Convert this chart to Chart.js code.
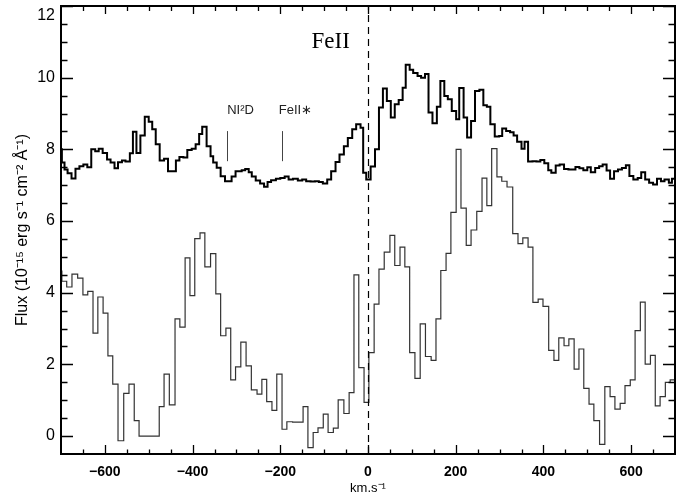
<!DOCTYPE html>
<html>
<head>
<meta charset="utf-8">
<script src="https://cdn.jsdelivr.net/npm/chart.js@4.4.1/dist/chart.umd.min.js"></script>
<style>
html, body { margin: 0; padding: 0; background: #fff; }
</style>
</head>
<body>
<canvas id="c" width="691" height="499"></canvas>
<script>
// axis labels
const xTickLabels = [-600, -400, -200, 0, 200, 400, 600];
const yTickLabels = [0, 2, 4, 6, 8, 10, 12];

// upper spectrum: left edge of each bin (km/s) and flux
const upperVel = [-700,-698,-692,-685,-676,-667,-658,-649,-640,-631,
  -622,-614,-605,-595,-587,-578,-570,-561,-553,-543,
  -536,-528,-519,-509,-500,-492,-484,-475,-465,-456,
  -438,-430,-421,-412,-402,-393,-385,-378,-368,-359,
  -353,-345,-336,-326,-311,-302,-288,-280,-272,-265,
  -256,-246,-237,-229,-221,-210,-200,-190,-181,-171,
  -160,-150,-141,-131,-121,-112,-103,-93,-84,-74,
  -65,-55,-46,-36,-27,-17,-11,-4,6,16,
  25,34,43,52,61,70,79,86,95,103,
  113,121,130,138,147,157,165,174,182,191,
  201,208,218,226,235,244,254,263,271,279,
  289,299,306,315,324,332,340,350,357,365,
  375,384,393,402,411,418,428,437,447,457,
  464,473,482,491,500,508,518,527,535,544,
  552,561,570,579,588,596,605,615,623,632,
  641,650,659,668,676,686,693,700];
const upperFlux = [8.0,7.63,7.44,7.33,7.19,7.46,7.53,7.58,7.50,8.00,
  7.95,8.02,7.90,7.72,7.63,7.47,7.64,7.69,7.66,7.89,
  8.49,7.90,8.39,8.91,8.77,8.56,8.14,7.69,7.74,7.39,
  7.69,7.79,7.77,7.98,8.02,8.14,8.43,8.63,8.09,7.81,
  7.63,7.49,7.25,7.11,7.24,7.39,7.42,7.45,7.36,7.24,
  7.13,7.05,6.96,7.09,7.14,7.18,7.20,7.24,7.16,7.18,
  7.13,7.16,7.11,7.10,7.11,7.09,7.05,7.16,7.39,7.65,
  7.86,8.09,8.32,8.56,8.70,8.60,7.35,7.16,7.52,8.00,
  9.17,9.70,9.35,8.89,9.26,9.38,9.72,10.36,10.22,10.13,
  10.05,10.00,10.10,9.03,8.73,9.19,9.91,9.49,9.40,9.07,
  8.84,9.71,8.89,8.33,8.79,9.63,9.66,9.23,9.19,8.70,
  8.36,8.37,8.58,8.51,8.48,8.39,8.21,8.02,8.21,7.66,
  7.67,7.66,7.70,7.61,7.42,7.35,7.55,7.58,7.45,7.44,
  7.44,7.51,7.47,7.42,7.50,7.36,7.48,7.53,7.58,7.41,
  7.18,7.39,7.44,7.48,7.56,7.26,7.16,7.20,7.36,7.16,
  7.07,7.02,7.18,7.11,7.16,7.07,7.18,7.18];

// lower spectrum
const lowerVel = [-700,-698,-687,-675,-662,-650,-639,-627,-616,-604,
  -593,-582,-570,-557,-545,-533,-522,-476,-465,-453,
  -440,-429,-417,-406,-395,-383,-372,-359,-347,-336,
  -324,-313,-302,-290,-278,-266,-253,-242,-231,-219,
  -208,-196,-185,-172,-148,-137,-125,-114,-102,-91,
  -79,-68,-55,-43,-32,-21,-9,2,14,25,
  37,50,61,73,84,95,107,119,131,144,
  155,166,178,189,201,212,224,235,248,260,
  271,282,294,305,317,330,342,353,365,376,
  388,399,412,424,435,447,458,470,481,492,
  504,515,528,540,552,563,575,586,598,609,
  621,632,644,655,666,678,689,700];
const lowerFlux = [4.60,4.32,4.16,4.52,4.41,3.94,4.04,2.87,3.88,3.43,
  2.24,1.45,-0.13,1.19,1.45,0.43,0.00,0.82,1.73,0.87,
  3.27,3.04,4.97,3.92,5.51,5.67,4.72,5.09,3.97,2.80,
  3.01,1.57,1.93,2.62,1.96,1.29,1.17,1.58,0.96,0.72,
  1.73,0.19,0.40,0.39,0.82,-0.32,0.10,0.23,0.61,0.10,
  0.22,1.01,0.63,1.21,4.50,1.91,0.94,2.33,3.68,4.66,
  5.13,5.60,4.76,5.27,4.72,2.33,1.61,3.13,2.22,2.11,
  3.27,4.62,5.10,6.24,8.00,6.36,5.32,5.75,6.27,7.20,
  6.43,8.02,7.23,7.11,6.95,5.65,5.37,5.53,5.27,3.73,
  3.82,3.62,2.39,2.11,2.74,2.52,2.71,1.87,2.43,1.33,
  0.89,0.43,-0.23,1.38,1.10,0.75,0.91,1.41,1.57,2.94,
  3.74,2.01,2.25,0.84,1.10,1.50,1.57,1.57];

// line markers (velocity, label)
const markerVel = [-322, -196];
const markerText = ['NI²D', 'FeII∗'];
const markerRange = [7.67, 8.51];   // flux span of the small marker bars
const markerLabelY = 9.1;
const titleText = 'FeII';
const titlePos = [-85, 11.0];

const toPoints = (xs, ys) => xs.map((v, i) => ({ x: v, y: ys[i] }));

// inward ticks on all four sides, dashed zero line, markers
const framePlugin = {
    id: 'frame',
    afterDatasetsDraw(chart) {
        const { ctx, chartArea: a, scales: { x, y } } = chart;
        ctx.save();
        ctx.strokeStyle = '#000';
        ctx.lineWidth = 2;
        ctx.strokeRect(a.left, a.top, a.right - a.left, a.bottom - a.top);

        ctx.lineWidth = 1.3;
        ctx.beginPath();
        for (let v = -650; v <= 650; v += 50) {
            const px = Math.round(x.getPixelForValue(v)) + 0.5;
            const major = v % 200 === 0;
            ctx.moveTo(px, a.bottom); ctx.lineTo(px, a.bottom - (major ? 9 : 4.5));
            ctx.moveTo(px, a.top); ctx.lineTo(px, a.top + (major ? 8 : 5));
        }
        for (let v = 0; v <= 12; v += 0.5) {
            const py = Math.round(y.getPixelForValue(v)) + 0.5;
            const len = v % 2 === 0 ? 12 : 6.5;
            ctx.moveTo(a.left, py); ctx.lineTo(a.left + len, py);
            ctx.moveTo(a.right, py); ctx.lineTo(a.right - len, py);
        }
        ctx.stroke();

        // dashed line at v = 0
        const x0 = Math.round(x.getPixelForValue(0)) + 0.5;
        ctx.setLineDash([7, 5]);
        ctx.lineWidth = 1.2;
        ctx.beginPath();
        ctx.moveTo(x0, a.bottom); ctx.lineTo(x0, a.top);
        ctx.stroke();
        ctx.setLineDash([]);

        // marker bars and labels
        ctx.strokeStyle = '#444';
        ctx.lineWidth = 1;
        ctx.fillStyle = '#222';
        ctx.font = '13px "Liberation Sans", Arial, sans-serif';
        ctx.textAlign = 'center';
        ctx.textBaseline = 'middle';
        markerVel.forEach((v, i) => {
            const px = Math.round(x.getPixelForValue(v)) + 0.5;
            ctx.beginPath();
            ctx.moveTo(px, y.getPixelForValue(markerRange[0]));
            ctx.lineTo(px, y.getPixelForValue(markerRange[1]));
            ctx.stroke();
            ctx.fillText(markerText[i], px + 13, y.getPixelForValue(markerLabelY));
        });

        ctx.fillStyle = '#000';
        ctx.font = '23px "Liberation Serif", "Times New Roman", serif';
        ctx.fillText(titleText, x.getPixelForValue(titlePos[0]), y.getPixelForValue(titlePos[1]));
        ctx.restore();
    }
};

new Chart(document.getElementById('c'), {
    type: 'line',
    data: {
        datasets: [
            {
                data: toPoints(upperVel, upperFlux),
                borderColor: '#000',
                borderWidth: 2,
                stepped: 'before',
                pointRadius: 0,
                fill: false
            },
            {
                data: toPoints(lowerVel, lowerFlux),
                borderColor: '#333',
                borderWidth: 1.2,
                stepped: 'before',
                pointRadius: 0,
                fill: false
            }
        ]
    },
    options: {
        responsive: false,
        animation: false,
        devicePixelRatio: 1,
        layout: { padding: { top: 6, right: 16, left: 0, bottom: 0 } },
        plugins: { legend: { display: false }, tooltip: { enabled: false } },
        scales: {
            x: {
                type: 'linear',
                min: -700,
                max: 700,
                afterBuildTicks: s => { s.ticks = xTickLabels.map(v => ({ value: v })); },
                afterFit: s => { s.height = 45; s.paddingLeft = 0; s.paddingRight = 0; },
                grid: { display: false, drawTicks: false },
                border: { display: false },
                ticks: {
                    padding: 10,
                    color: '#000',
                    maxRotation: 0,
                    font: { family: '"Liberation Sans", Arial, sans-serif', size: 14, weight: 'bold' },
                    callback: v => v < 0 ? '−' + Math.abs(v) : String(v)
                },
                title: {
                    display: true,
                    text: 'km.s⁻¹',
                    color: '#000',
                    padding: { top: 0, bottom: 3 },
                    font: { family: '"Liberation Sans", Arial, sans-serif', size: 13 }
                }
            },
            y: {
                min: -0.5,
                max: 12,
                afterBuildTicks: s => { s.ticks = yTickLabels.map(v => ({ value: v })); },
                afterFit: s => { s.width = 61; s.paddingTop = 0; s.paddingBottom = 0; },
                grid: { display: false, drawTicks: false },
                border: { display: false },
                ticks: {
                    padding: 6,
                    color: '#000',
                    font: { family: '"Liberation Sans", Arial, sans-serif', size: 16 },
                    // the top label sits below the frame edge, as in the original
                    callback: v => v === 12 ? ['', '12'] : String(v)
                },
                title: {
                    display: true,
                    text: 'Flux (10⁻¹⁵ erg s⁻¹ cm⁻² Å⁻¹)',
                    color: '#000',
                    padding: { top: 13, bottom: 0 },
                    font: { family: '"Liberation Sans", Arial, sans-serif', size: 16 }
                }
            }
        }
    },
    plugins: [framePlugin]
});
</script>
</body>
</html>
